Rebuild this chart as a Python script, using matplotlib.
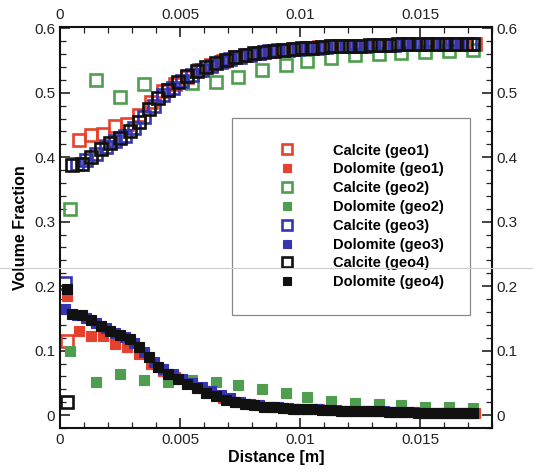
import matplotlib
matplotlib.use("Agg")
import matplotlib.pyplot as plt
from matplotlib.lines import Line2D

plt.rcParams['font.family'] = ['Liberation Sans', 'DejaVu Sans']

# geo1 (red)
x_geo1 = [0.0003, 0.0008, 0.0013, 0.0018, 0.0023, 0.0028, 0.0033, 0.0038, 0.0043, 0.0048,
          0.0053, 0.0058, 0.0063, 0.0068, 0.0073, 0.0078, 0.0083, 0.0088, 0.0093, 0.0098,
          0.0103, 0.0108, 0.0113, 0.0118, 0.0123, 0.0128, 0.0133, 0.0138, 0.0143, 0.0148,
          0.0153, 0.0158, 0.0163, 0.0168, 0.0173]
cal_geo1 = [0.115, 0.426, 0.434, 0.436, 0.448, 0.452, 0.465, 0.486, 0.502, 0.514,
            0.525, 0.535, 0.543, 0.550, 0.555, 0.559, 0.562, 0.565, 0.567, 0.568,
            0.569, 0.571, 0.572, 0.572, 0.573, 0.573, 0.574, 0.574, 0.575, 0.575,
            0.575, 0.575, 0.576, 0.576, 0.576]
dol_geo1 = [0.185, 0.131, 0.122, 0.123, 0.111, 0.105, 0.095, 0.080, 0.069, 0.059,
            0.050, 0.042, 0.034, 0.027, 0.021, 0.017, 0.015, 0.013, 0.011, 0.010,
            0.009, 0.009, 0.008, 0.007, 0.007, 0.006, 0.006, 0.005, 0.005, 0.005,
            0.004, 0.004, 0.004, 0.003, 0.003]

# geo2 (green)
x_geo2 = [0.0004, 0.0015, 0.0025, 0.0035, 0.0045, 0.0055, 0.0065, 0.0074, 0.0084,
          0.0094, 0.0103, 0.0113, 0.0123, 0.0133, 0.0142, 0.0152, 0.0162, 0.0172]
cal_geo2 = [0.320, 0.520, 0.494, 0.514, 0.505, 0.515, 0.517, 0.525, 0.535,
            0.543, 0.549, 0.554, 0.558, 0.560, 0.561, 0.563, 0.564, 0.566]
dol_geo2 = [0.100, 0.051, 0.063, 0.055, 0.052, 0.054, 0.051, 0.046, 0.040,
            0.034, 0.028, 0.022, 0.019, 0.017, 0.015, 0.013, 0.012, 0.011]

# geo3 (blue)
x_geo3 = [0.0002, 0.0007, 0.0011, 0.0015, 0.0019, 0.0023, 0.0027, 0.0031, 0.0035, 0.0039,
          0.0043, 0.0047, 0.0051, 0.0055, 0.0059, 0.0063, 0.0067, 0.0071, 0.0075, 0.0079,
          0.0083, 0.0087, 0.0091, 0.0095, 0.0099, 0.0103, 0.0107, 0.0111, 0.0115, 0.0119,
          0.0123, 0.0127, 0.0131, 0.0135, 0.0139, 0.0143, 0.0147, 0.0151, 0.0155, 0.0159,
          0.0163, 0.0167, 0.0171]
cal_geo3 = [0.205, 0.389, 0.395, 0.405, 0.416, 0.425, 0.433, 0.445, 0.462, 0.480,
            0.496, 0.508, 0.518, 0.527, 0.535, 0.542, 0.548, 0.553, 0.556, 0.559,
            0.562, 0.564, 0.566, 0.567, 0.568, 0.569, 0.570, 0.571, 0.572, 0.572,
            0.573, 0.573, 0.574, 0.574, 0.574, 0.575, 0.575, 0.575, 0.575, 0.575,
            0.576, 0.576, 0.576]
dol_geo3 = [0.165, 0.156, 0.151, 0.143, 0.135, 0.128, 0.121, 0.112, 0.098, 0.083,
            0.071, 0.063, 0.056, 0.050, 0.044, 0.037, 0.031, 0.026, 0.021, 0.018,
            0.015, 0.013, 0.012, 0.011, 0.010, 0.009, 0.009, 0.008, 0.008, 0.007,
            0.007, 0.006, 0.006, 0.006, 0.005, 0.005, 0.005, 0.004, 0.004, 0.004,
            0.004, 0.003, 0.003]

# geo4 (black)
x_geo4 = [0.0003, 0.0005, 0.0009, 0.0013, 0.0017, 0.0021, 0.0025, 0.0029, 0.0033, 0.0037,
          0.0041, 0.0045, 0.0049, 0.0053, 0.0057, 0.0061, 0.0065, 0.0069, 0.0073, 0.0077,
          0.0081, 0.0085, 0.0089, 0.0093, 0.0097, 0.0101, 0.0105, 0.0109, 0.0113, 0.0117,
          0.0121, 0.0125, 0.0129, 0.0133, 0.0137, 0.0141, 0.0145, 0.0149, 0.0153, 0.0157,
          0.0161, 0.0165, 0.0169, 0.0172]
cal_geo4 = [0.020, 0.388, 0.390, 0.400, 0.412, 0.422, 0.430, 0.440, 0.455, 0.475,
            0.492, 0.505, 0.516, 0.526, 0.533, 0.540, 0.546, 0.551, 0.555, 0.558,
            0.561, 0.563, 0.565, 0.567, 0.568, 0.569, 0.570, 0.571, 0.572, 0.572,
            0.573, 0.573, 0.574, 0.574, 0.574, 0.575, 0.575, 0.575, 0.575, 0.575,
            0.576, 0.576, 0.576, 0.576]
dol_geo4 = [0.195, 0.157, 0.155, 0.147, 0.139, 0.131, 0.125, 0.118, 0.105, 0.090,
            0.074, 0.064, 0.056, 0.049, 0.042, 0.035, 0.029, 0.024, 0.020, 0.017,
            0.015, 0.013, 0.012, 0.011, 0.010, 0.009, 0.009, 0.008, 0.008, 0.007,
            0.007, 0.006, 0.006, 0.006, 0.005, 0.005, 0.005, 0.004, 0.004, 0.004,
            0.004, 0.003, 0.003, 0.003]

xticks = [0, 0.005, 0.01, 0.015]
xtick_labels = ['0', '0.005', '0.01', '0.015']
yticks = [0, 0.1, 0.2, 0.3, 0.4, 0.5, 0.6]
ytick_labels = ['0', '0.1', '0.2', '0.3', '0.4', '0.5', '0.6']

series = [
    (x_geo1, cal_geo1, dol_geo1, '#e5412c', 'geo1'),
    (x_geo2, cal_geo2, dol_geo2, '#4f9e4f', 'geo2'),
    (x_geo3, cal_geo3, dol_geo3, '#3535b0', 'geo3'),
    (x_geo4, cal_geo4, dol_geo4, '#111111', 'geo4'),
]

fig = plt.figure(figsize=(5.33, 4.72), dpi=100)
ax = fig.add_axes([0.1126, 0.0932, 0.8104, 0.8496])

for xs, cal, dol, col, name in series:
    ax.plot(xs, cal, linestyle='none', marker='s', markersize=8.3,
            markerfacecolor='none', markeredgecolor=col, markeredgewidth=1.9,
            label='Calcite (%s)' % name)
    ax.plot(xs, dol, linestyle='none', marker='s', markersize=7.6,
            markerfacecolor=col, markeredgecolor=col, markeredgewidth=0.8,
            label='Dolomite (%s)' % name)

ax.set_xlim(0, 0.018)
ax.set_ylim(-0.02, 0.602)
ax.set_xticks(xticks)
ax.set_xticklabels(xtick_labels)
ax.set_yticks(yticks)
ax.set_yticklabels(ytick_labels)
ax.set_xticks([i * 0.001 for i in range(19)], minor=True)
ax.set_yticks([-0.02 + i * 0.02 for i in range(32)], minor=True)
ax.tick_params(which='both', direction='in', top=True, right=True,
               labeltop=True, labelright=True, labelsize=11, colors='#222222')
ax.tick_params(which='major', length=7, width=1.2)
ax.tick_params(which='minor', length=4, width=0.9)
for s in ax.spines.values():
    s.set_linewidth(1.5)
    s.set_color('#111111')

ax.set_xlabel('Distance [m]', fontsize=11.5, fontweight='bold', labelpad=2)
ax.set_ylabel('Volume Fraction', fontsize=11.5, fontweight='bold', labelpad=4)

leg = ax.legend(loc='upper left', bbox_to_anchor=(0.398, 0.773), numpoints=1,
                prop={'weight': 'bold', 'size': 10.5}, markerscale=0.85,
                handlelength=4.1, handletextpad=1.1, borderpad=1.75,
                labelspacing=0.33, borderaxespad=0, fancybox=False,
                framealpha=1, edgecolor='#888888')
leg.get_frame().set_linewidth(0.9)

# faint scan line across the page
fig.add_artist(Line2D([0, 1], [0.432, 0.432], transform=fig.transFigure,
                      color='#cccccc', linewidth=0.8))

fig.savefig('out.png', dpi=100)
